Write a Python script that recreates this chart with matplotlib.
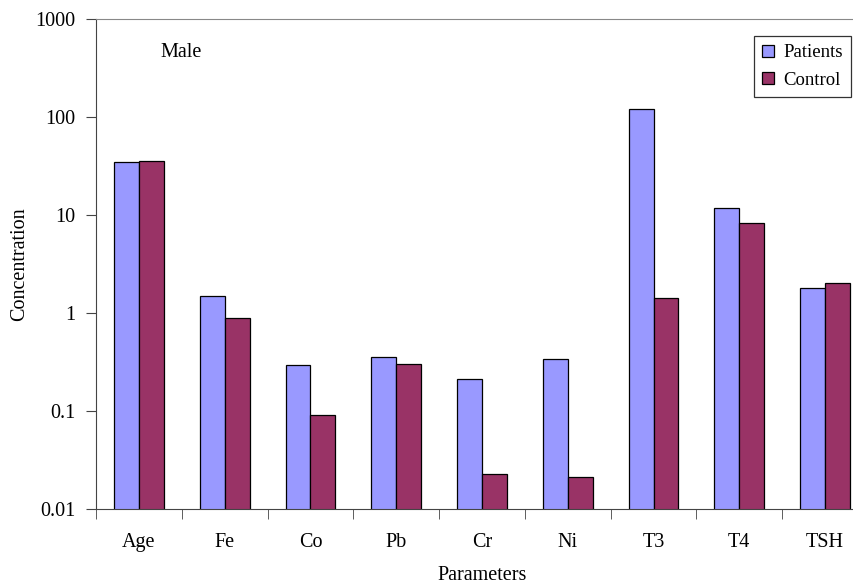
import numpy as np
import matplotlib.pyplot as plt

plt.rcParams['font.family'] = ['Liberation Serif', 'DejaVu Serif']

# parameters measured for male subjects
params = ['Age', 'Fe', 'Co', 'Pb', 'Cr', 'Ni', 'T3', 'T4', 'TSH']
patients = [34.5, 1.50, 0.292, 0.356, 0.212, 0.342, 119.7, 11.8, 1.80]
control = [35.8, 0.88, 0.090, 0.30, 0.023, 0.021, 1.43, 8.35, 2.04]

fs = 14.5

fig = plt.figure(figsize=(8.54, 5.84), dpi=100)
# plot area runs a little past the right edge of the figure
ax = fig.add_axes([96 / 854, 1 - 509 / 584, 772 / 854, 490 / 584])

x = np.arange(len(params))
w = 0.29
ax.bar(x - w / 2, patients, w, color='#9999FF', edgecolor='black',
       linewidth=0.9, label='Patients')
ax.bar(x + w / 2, control, w, color='#993366', edgecolor='black',
       linewidth=0.9, label='Control')

ax.set_yscale('log')
ax.set_ylim(0.01, 1000)
ax.set_xlim(-0.5, len(params) - 0.5)
ax.set_yticks([0.01, 0.1, 1, 10, 100, 1000])
ax.set_yticklabels(['0.01', '0.1', '1', '10', '100', '1000'])
ax.minorticks_off()

# category labels centred, ticks at the boundaries
ax.set_xticks(x)
ax.set_xticklabels(params)
ax.tick_params(axis='x', length=0, pad=17, labelsize=fs)
ax.set_xticks(np.arange(len(params) + 1) - 0.5, minor=True)
ax.tick_params(axis='x', which='minor', length=7, direction='out', color='#444444')
ax.tick_params(axis='y', length=7, direction='out', labelsize=fs, color='#444444', pad=8)

for s in ['top', 'right']:
    ax.spines[s].set_color('#888888')
ax.spines['left'].set_color('#444444')
ax.spines['bottom'].set_color('#444444')

ax.set_xlabel('Parameters', fontsize=fs, labelpad=10)
ax.set_ylabel('Concentration', fontsize=fs, labelpad=4)

ax.text(0.083, 0.931, 'Male', transform=ax.transAxes, fontsize=fs,
        ha='left', va='center')

leg = fig.legend(loc='upper right', bbox_to_anchor=(851 / 854, 1 - 36 / 584),
                 fontsize=13.5, frameon=True, fancybox=False, borderaxespad=0,
                 handlelength=0.6, handleheight=0.6, handletextpad=0.5,
                 labelspacing=0.55, borderpad=0.45)
leg.get_frame().set_edgecolor('black')
leg.get_frame().set_linewidth(0.9)

fig.savefig('out.png', dpi=100)
